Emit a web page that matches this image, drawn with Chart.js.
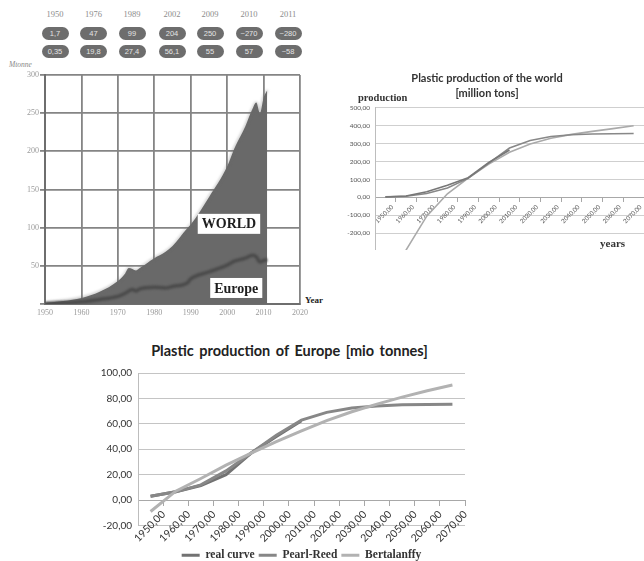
<!DOCTYPE html>
<html>
<head>
<meta charset="utf-8">
<script src="https://cdn.jsdelivr.net/npm/chart.js@4/dist/chart.umd.min.js"></script>
<style>
  html, body { margin: 0; padding: 0; background: #fff; width: 644px; height: 561px; overflow: hidden; position: relative; }
  .abs { position: absolute; }
  .yr { position: absolute; width: 36px; margin-left: -18px; text-align: center; top: 9px; font: 8.5px "Liberation Serif", serif; color: #8c8c8c; }
  .pill { position: absolute; width: 27px; height: 13px; margin-left: -13.5px; border-radius: 7px; background: #6d6d6d; color: #e4e4e4;
          font: 7.5px "Liberation Sans", sans-serif; line-height: 13px; text-align: center; }
</style>
</head>
<body>
<div id="hdr"></div>
<div class="abs" style="left:9px;top:60px;font:italic 7.5px 'Liberation Serif',serif;color:#888">Mtonne</div>
<div class="abs" style="left:305px;top:295px;font:bold 9px 'Liberation Serif',serif;color:#222">Year</div>
<div class="abs" style="left:0;top:60px;width:330px;height:270px"><canvas id="c1" width="330" height="270"></canvas></div>

<div class="abs" style="left:330px;top:60px;width:314px;height:190px;overflow:hidden"><canvas id="c2" width="314" height="200"></canvas></div>
<div class="abs" style="left:358px;top:91px;font:bold 10.5px 'Liberation Serif',serif;line-height:14px;color:#333">production</div>
<div class="abs" style="left:600px;top:235px;font:bold 11px 'Liberation Serif',serif;line-height:16px;color:#333">years</div>

<div class="abs" style="left:0;top:341px;width:579px;text-align:center;font:bold 14.5px Lato,sans-serif;line-height:20px;color:#222;word-spacing:2px">Plastic production of Europe [mio tonnes]</div>
<div class="abs" style="left:95px;top:333px;width:410px;height:238px"><canvas id="c3" width="410" height="238"></canvas></div>

<script>
// ---- key figures table (Mt) ----
const tableYears  = ['1950', '1976', '1989', '2002', '2009', '2010', '2011'];
const tableWorld  = ['1,7', '47', '99', '204', '250', '~270', '~280'];
const tableEurope = ['0,35', '19,8', '27,4', '56,1', '55', '57', '~58'];

// ---- historical production, Mt ----
const years     = [1950, 1955, 1960, 1965, 1970, 1972, 1973, 1974, 1975, 1976, 1980, 1983, 1985, 1989, 1990, 1995, 2000, 2002, 2005, 2007, 2008, 2009, 2010, 2011];
const worldMt   = [1.7, 4, 8, 16, 30, 40, 47, 46, 44, 47, 60, 68, 76, 99, 104, 140, 180, 204, 233, 256, 264, 250, 270, 280];
const europeMt  = [0.35, 1.5, 3, 6, 10, 14, 17, 19, 17, 19.8, 22, 21, 23, 27.4, 33, 42, 51, 56.1, 60, 64, 62, 55, 57, 58];

// ---- model curves by decade ----
const decadeLabels = ['1950,00', '1960,00', '1970,00', '1980,00', '1990,00', '2000,00', '2010,00', '2020,00', '2030,00', '2040,00', '2050,00', '2060,00', '2070,00'];
const worldReal        = [2, 8, 32, 68, 110, 195, 265, null, null, null, null, null, null];
const worldPearlReed   = [3, 6, 22, 52, 106, 192, 276, 318, 340, 350, 354, 356, 357];
const worldBertalanffy = [-620, -295, -105, 20, 108, 186, 252, 298, 330, 352, 369, 384, 400];

const europeReal        = [3, 6.5, 11.5, 20, 37, 50, 62.5, null, null, null, null, null, null];
const europePearlReed   = [3, 6.5, 12, 23, 37, 51, 63, 69, 72.5, 74, 75, 75.2, 75.5];
const europeBertalanffy = [-9, 7, 17, 27.5, 37, 46, 54.5, 62.5, 69.5, 75.5, 81, 86, 90.5];

// ---- header table ----
const colX = [55, 93.5, 132, 172, 210, 249, 288];
const hdr = document.getElementById('hdr');
tableYears.forEach((y, i) => {
  const a = document.createElement('div'); a.className = 'yr'; a.style.left = colX[i] + 'px'; a.textContent = y; hdr.appendChild(a);
  const b = document.createElement('div'); b.className = 'pill'; b.style.left = colX[i] + 'px'; b.style.top = '27px'; b.textContent = tableWorld[i]; hdr.appendChild(b);
  const c = document.createElement('div'); c.className = 'pill'; c.style.left = colX[i] + 'px'; c.style.top = '45px'; c.textContent = tableEurope[i]; hdr.appendChild(c);
});

const comma = v => Number(v).toFixed(2).replace('.', ',');

// soft edges on the production areas
const softEdges = {
  id: 'softEdges',
  beforeDatasetDraw(chart, args) { chart.ctx.save(); chart.ctx.filter = args.index === 1 ? 'blur(1.4px)' : 'blur(0.8px)'; },
  afterDatasetDraw(chart) { chart.ctx.restore(); }
};

// boxed region names on the area chart
const areaNames = {
  id: 'areaNames',
  afterDatasetsDraw(chart) {
    const { ctx, scales: { x, y } } = chart;
    const names = [{ text: 'WORLD', year: 2000.5, mt: 105 }, { text: 'Europe', year: 2002.5, mt: 21 }];
    ctx.save();
    ctx.font = 'bold 14px "Liberation Serif", serif';
    ctx.textAlign = 'center';
    ctx.textBaseline = 'middle';
    names.forEach(n => {
      const px = x.getPixelForValue(n.year), py = y.getPixelForValue(n.mt);
      const w = ctx.measureText(n.text).width + 8;
      ctx.fillStyle = '#ffffff';
      ctx.fillRect(px - w / 2, py - 10, w, 20);
      ctx.fillStyle = '#1e1e1e';
      ctx.fillText(n.text, px, py + 1);
    });
    ctx.restore();
  }
};

Chart.defaults.animation = false;
Chart.defaults.events = [];
Chart.defaults.plugins.tooltip.enabled = false;

// ---- area chart: world and Europe ----
new Chart(document.getElementById('c1'), {
  type: 'line',
  data: {
    datasets: [
      { label: 'Europe', data: years.map((yr, i) => ({ x: yr, y: europeMt[i] })), borderColor: '#4a4a4a', borderWidth: 3.5,
        pointRadius: 0, fill: false, cubicInterpolationMode: 'monotone' },
      { label: 'WORLD', data: years.map((yr, i) => ({ x: yr, y: worldMt[i] })), borderColor: '#696969', backgroundColor: '#696969',
        borderWidth: 1, pointRadius: 0, fill: 'origin', cubicInterpolationMode: 'monotone' }
    ]
  },
  plugins: [softEdges, areaNames],
  options: {
    responsive: false,
    layout: { padding: { top: 15, right: 30, left: 0, bottom: 0 } },
    plugins: { legend: { display: false } },
    scales: {
      x: {
        type: 'linear', min: 1950, max: 2020,
        ticks: { stepSize: 10, padding: 4, color: '#9a9a9a', font: { family: 'Liberation Serif', size: 8 }, callback: v => String(v) },
        grid: { color: '#858585', lineWidth: 1.8, drawTicks: false },
        border: { color: '#6e6e6e', width: 2 },
        afterFit(s) { s.height = 26; }
      },
      y: {
        min: 0, max: 300,
        ticks: { stepSize: 50, padding: 1, color: '#9a9a9a', font: { family: 'Liberation Serif', size: 8 }, callback: v => v === 0 ? '' : String(v) },
        grid: { color: '#858585', lineWidth: 1.8, tickLength: 5 },
        border: { color: '#6e6e6e', width: 2 },
        afterFit(s) { s.width = 45; }
      }
    }
  }
});

// ---- world model curves ----
new Chart(document.getElementById('c2'), {
  type: 'line',
  data: {
    labels: decadeLabels,
    datasets: [
      { label: 'real curve', data: worldReal, borderColor: '#777777', backgroundColor: '#777777', borderWidth: 1.6, pointRadius: 0 },
      { label: 'Pearl-Reed', data: worldPearlReed, borderColor: '#888888', backgroundColor: '#888888', borderWidth: 1.6, pointRadius: 0 },
      { label: 'Bertalanffy', data: worldBertalanffy, borderColor: '#aaaaaa', backgroundColor: '#aaaaaa', borderWidth: 1.6, pointRadius: 0 }
    ]
  },
  options: {
    responsive: false,
    layout: { padding: { top: 0, right: 0, left: 0, bottom: 8 } },
    plugins: {
      legend: { display: false },
      title: { display: true, text: ['Plastic production of the world', '[million tons]'], color: '#333',
               font: { family: 'Lato', weight: 'bold', size: 11, lineHeight: 1.45 }, padding: { top: 10, bottom: 6 } }
    },
    scales: {
      x: {
        type: 'category', position: { y: 0 }, offset: true,
        ticks: { autoSkip: false, minRotation: 45, maxRotation: 45, padding: 2, labelOffset: 7, color: '#555', font: { family: 'Lato', size: 6.2 } },
        grid: { offset: true, drawOnChartArea: false, tickLength: 4, color: '#a8a8a8' },
        border: { color: '#a8a8a8' }
      },
      y: {
        min: -300, max: 500,
        ticks: { stepSize: 100, padding: 5, color: '#555', font: { family: 'Lato', size: 6.5 }, callback: v => v === -300 ? '' : comma(v) },
        grid: { drawTicks: false, color: ctx => ctx.tick && ctx.tick.value === -300 ? 'rgba(0,0,0,0)' : '#cfcfcf' },
        border: { color: '#bdbdbd' },
        afterFit(s) { s.width = 45; }
      }
    }
  }
});

// ---- Europe model curves ----
new Chart(document.getElementById('c3'), {
  type: 'line',
  data: {
    labels: decadeLabels,
    datasets: [
      { label: 'real curve', data: europeReal, xAxisID: 'x', order: 2, borderColor: '#727272', backgroundColor: '#727272', borderWidth: 3, pointRadius: 0 },
      { label: 'Pearl-Reed', data: europePearlReed, xAxisID: 'x', order: 1, borderColor: '#878787', backgroundColor: '#878787', borderWidth: 3, pointRadius: 0 },
      { label: 'Bertalanffy', data: europeBertalanffy, xAxisID: 'x', order: 0, borderColor: '#b2b2b2', backgroundColor: '#b2b2b2', borderWidth: 3, pointRadius: 0 }
    ]
  },
  options: {
    responsive: false,
    layout: { padding: { top: 40, right: 40, left: 0, bottom: 0 } },
    plugins: {
      legend: {
        position: 'bottom', fullSize: false,
        labels: { usePointStyle: true, pointStyle: 'line', pointStyleWidth: 18, padding: 4, color: '#333',
                  font: { family: 'Liberation Serif', weight: 'bold', size: 11.5 },
                  sort: (a, b) => a.datasetIndex - b.datasetIndex }
      }
    },
    scales: {
      x: {
        type: 'category', position: { y: 0 }, offset: true,
        ticks: { autoSkip: false, minRotation: 45, maxRotation: 45, padding: 3, labelOffset: 13, color: '#333', font: { family: 'Lato', size: 10.5 } },
        grid: { offset: true, drawOnChartArea: false, tickLength: 5, color: '#a8a8a8' },
        border: { color: '#a8a8a8' }
      },
      gap: {
        type: 'category', position: 'bottom', display: true,
        ticks: { display: false }, grid: { display: false }, border: { display: false },
        afterFit(s) { s.height = 20; }
      },
      y: {
        min: -20, max: 100,
        ticks: { stepSize: 20, padding: 6, color: '#333', font: { family: 'Lato', size: 10 }, callback: v => comma(v) },
        grid: { drawTicks: false, color: '#c4c4c4' },
        border: { color: '#bdbdbd' },
        afterFit(s) { s.width = 43; }
      }
    }
  }
});
</script>
</body>
</html>
